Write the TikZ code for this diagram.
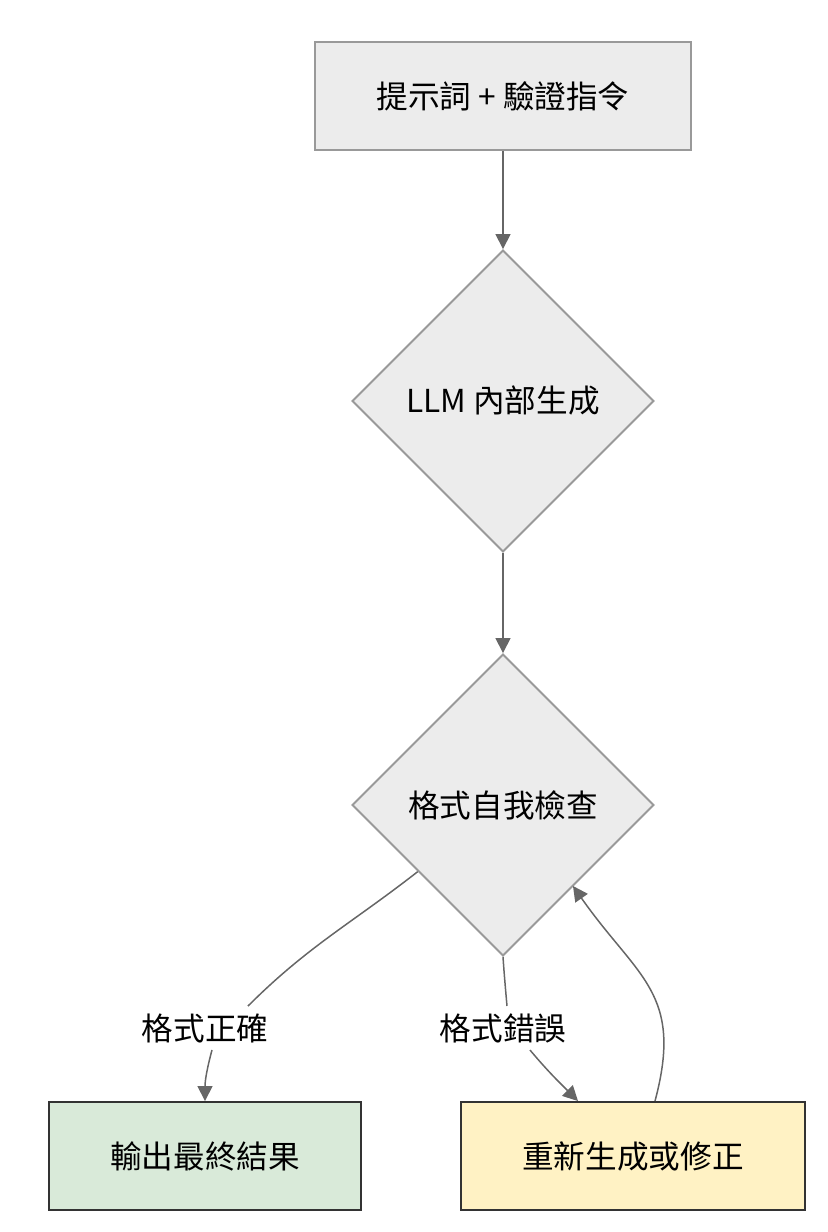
\documentclass[tikz,border=0pt]{standalone}
\usepackage{fontspec}
\setmainfont{Noto Sans CJK TC}
\usepackage{tikz}
\usetikzlibrary{shapes.geometric}
\usetikzlibrary{arrows,arrows.meta}
\usetikzlibrary{positioning}
\definecolor{pfeil}{RGB}{102,102,102}
\definecolor{rahmen}{RGB}{153,153,153}
\definecolor{grau}{RGB}{236,236,236}
\definecolor{gruen}{RGB}{217,234,217}
\definecolor{gelb}{RGB}{255,242,196}
\definecolor{dunkel}{RGB}{51,51,51}

\begin{document}
\begin{tikzpicture}[x=0.02cm, y=-0.02cm,
	font=\fontsize{18}{21}\selectfont,
	box/.style={draw=rahmen, fill=grau, line width=1.1pt, minimum width=7.52cm, minimum height=2.16cm, inner sep=0pt},
	raute/.style={diamond, draw=rahmen, fill=grau, line width=1.1pt, minimum width=6.04cm, minimum height=6.04cm, inner sep=0pt},
	ende/.style={draw=dunkel, line width=1.1pt, minimum height=2.16cm, inner sep=0pt},
	marke/.style={inner sep=0.14cm},
	fluss/.style={draw=pfeil, line width=0.85pt, -{Triangle[length=0.3cm,width=0.3cm]}},
	linie/.style={draw=pfeil, line width=0.85pt}]

	\useasboundingbox (0,0) rectangle (828,1232);

	\node[box] (prompt) at (503,96) {提示詞 + 驗證指令};
	\node[raute] (llm) at (503,401) {LLM 內部生成};
	\node[raute] (check) at (503,805) {格式自我檢查};
	\node[ende, fill=gruen, minimum width=6.24cm] (done) at (205,1156) {輸出最終結果};
	\node[ende, fill=gelb, minimum width=6.88cm] (fix) at (633,1156) {重新生成或修正};

	\node[marke] (okLbl) at (205,1028) {格式正確};
	\node[marke] (errLbl) at (503,1028) {格式錯誤};

	\draw[fluss] (prompt) -- (llm);
	\draw[fluss] (llm) -- (check);

	% format ok
	\draw[linie] (check.-142) to[out=-142,in=45] ([xshift=0.86cm]okLbl.north);
	\draw[fluss] ([xshift=0.14cm]okLbl.south) to[out=-105,in=90] (done.north);

	% format wrong
	\draw[linie] (check.south) to[out=-86,in=95] ([xshift=0.08cm]errLbl.north);
	\draw[fluss] ([xshift=0.54cm]errLbl.south) to[out=-50,in=135] ([xshift=-1.1cm]fix.north);

	\draw[fluss] ([xshift=0.44cm]fix.north) to[out=75,in=-55,looseness=1.25] ([xshift=-0.12cm,yshift=-0.1cm]check.south east);

\end{tikzpicture}
\end{document}
